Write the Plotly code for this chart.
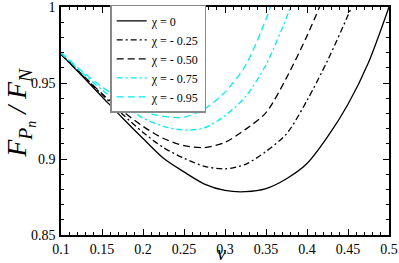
import plotly.graph_objects as go

chi0_v = [0.1, 0.125, 0.15, 0.175, 0.2, 0.225, 0.25, 0.275, 0.3, 0.325, 0.35, 0.375, 0.4, 0.425, 0.45, 0.475, 0.5]
chi0_F = [0.969, 0.955, 0.941, 0.927, 0.9135, 0.9005, 0.8915, 0.8835, 0.8793, 0.8785, 0.8805, 0.887, 0.897, 0.9145, 0.936, 0.9635, 1.0]

chi25_v = [0.1, 0.125, 0.15, 0.175, 0.2, 0.225, 0.25, 0.275, 0.3, 0.325, 0.35, 0.375, 0.4, 0.425, 0.45, 0.46]
chi25_F = [0.969, 0.9555, 0.9425, 0.9295, 0.9175, 0.9075, 0.9005, 0.8952, 0.8935, 0.8965, 0.905, 0.9165, 0.9385, 0.9647, 0.9945, 1.007]

chi50_v = [0.1, 0.125, 0.15, 0.175, 0.2, 0.225, 0.25, 0.275, 0.3, 0.325, 0.35, 0.375, 0.4, 0.42]
chi50_F = [0.969, 0.956, 0.943, 0.9315, 0.9215, 0.9135, 0.9088, 0.9075, 0.911, 0.9195, 0.9305, 0.9534, 0.981, 1.006]

chi75_v = [0.1, 0.125, 0.15, 0.175, 0.2, 0.225, 0.25, 0.275, 0.3, 0.325, 0.35, 0.375, 0.385]
chi75_F = [0.9695, 0.957, 0.9455, 0.9355, 0.927, 0.9215, 0.919, 0.9205, 0.9285, 0.941, 0.962, 0.993, 1.008]

chi95_v = [0.1, 0.125, 0.15, 0.175, 0.2, 0.225, 0.25, 0.275, 0.3, 0.325, 0.35, 0.36]
chi95_F = [0.970, 0.958, 0.9475, 0.9385, 0.9315, 0.928, 0.9275, 0.933, 0.944, 0.9615, 0.992, 1.008]

labels = ["χ = 0", "χ = - 0.25", "χ = - 0.50", "χ = - 0.75", "χ = - 0.95"]
colors = ["black", "black", "black", "#00EEEE", "#00EEEE"]
dashes = ["solid", "6px,3px,2px,3px", "7px,4px", "6px,3px,2px,3px", "7px,4px"]

x_ticks = [0.1, 0.15, 0.2, 0.25, 0.3, 0.35, 0.4, 0.45, 0.5]
x_tick_text = ["0.1", "0.15", "0.2", "0.25", "0.3", "0.35", "0.4", "0.45", "0.5"]
y_ticks = [0.85, 0.9, 0.95, 1.0]
y_tick_text = ["0.85", "0.9", "0.95", "1"]

series = [(chi0_v, chi0_F), (chi25_v, chi25_F), (chi50_v, chi50_F), (chi75_v, chi75_F), (chi95_v, chi95_F)]

fig = go.Figure()
for (xs, ys), lab, col, d in zip(series, labels, colors, dashes):
    fig.add_trace(go.Scatter(x=xs, y=ys, mode="lines", name=lab,
                             line=dict(color=col, dash=d, width=1.3, shape="spline", smoothing=0.8)))

serif = "Liberation Serif, Times New Roman, serif"
axis_common = dict(showline=True, linecolor="black", linewidth=1.5, mirror="ticks",
                   ticks="inside", ticklen=6, tickwidth=1, tickcolor="black",
                   showgrid=False, zeroline=False, automargin=False, ticklabeloverflow="allow",
                   tickfont=dict(family=serif, size=14, color="black"))

fig.update_xaxes(range=[0.1, 0.5], tickvals=x_ticks, ticktext=x_tick_text, ticklabelstandoff=0,
                 minor=dict(dtick=0.01, ticks="inside", ticklen=3, tickcolor="black", showgrid=False),
                 **axis_common)
fig.update_yaxes(range=[0.85, 1.0], tickvals=y_ticks, ticktext=y_tick_text, ticklabelstandoff=1,
                 minor=dict(dtick=0.01, ticks="inside", ticklen=3, tickcolor="black", showgrid=False),
                 **axis_common)

fig.add_annotation(text="<i>ν</i>", xref="paper", yref="paper", x=0.49, y=-0.077,
                   xanchor="center", yanchor="middle", showarrow=False,
                   font=dict(family=serif, size=20, color="black"))
fig.add_annotation(text="<i>F</i><sub><i>P<sub>n</sub></i></sub> <i>/ F</i><sub><i>N</i></sub>",
                   xref="paper", yref="paper", x=-0.125, y=0.536, textangle=-90,
                   xanchor="center", yanchor="middle", showarrow=False,
                   font=dict(family=serif, size=28, color="black"))

fig.update_layout(width=399, height=263, margin=dict(l=61, r=10, t=6, b=28),
                  paper_bgcolor="white", plot_bgcolor="white", showlegend=True,
                  legend=dict(x=0.15, y=1.005, xanchor="left", yanchor="top",
                              bgcolor="white", bordercolor="#888888", borderwidth=1.5,
                              font=dict(family=serif, size=12, color="black"),
                              tracegroupgap=0, itemwidth=30))

fig.write_html("out.html", config={"displayModeBar": False},
               post_script="document.body.style.margin='0';document.body.style.overflow='hidden';")
